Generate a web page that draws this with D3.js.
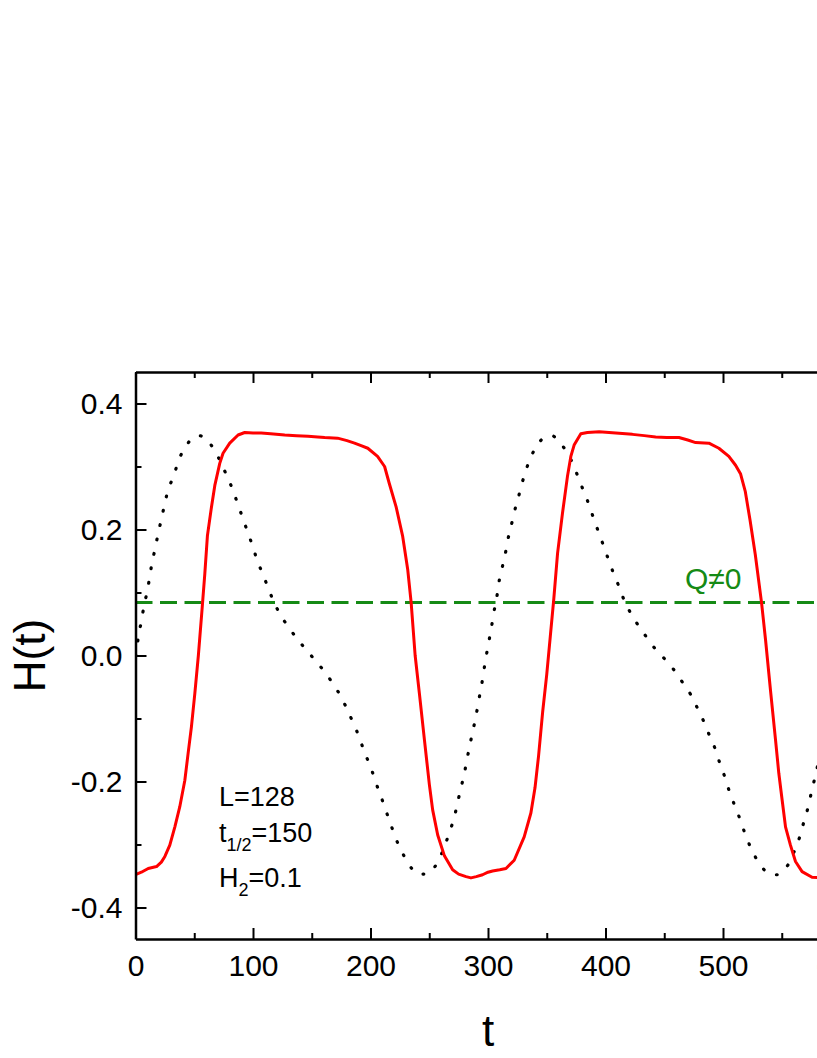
<!DOCTYPE html>
<html>
<head>
<meta charset="utf-8">
<script src="https://cdn.jsdelivr.net/npm/d3@7"></script>
<style>
  body { margin: 0; background: #fff; }
  svg text { font-family: "Liberation Sans", Arial, sans-serif; fill: #000; }
</style>
</head>
<body>
<div id="chart"></div>
<script>
// H(t) vs t: red = magnetisation response, black dotted = driving field
const redT = [0, 5, 10.8, 17.9, 22, 25, 29.2, 33.5, 37.7, 42, 44.8, 47.6, 50.5, 53.5, 56.5, 59, 61.2, 64.6, 67.5, 71.7, 74.5,
  80.2, 87.3, 93, 100, 107, 115, 127, 137, 146.8, 155, 161, 172, 180, 186.4, 192, 197.7, 206, 212, 216, 221.8,
  227.4, 231.7, 234.6, 238, 241.6, 245.9, 250.1, 252.9, 257.2, 262.9, 269.9, 275, 281.3, 285.5, 290, 295.4,
  300, 303.9, 310, 315.3, 322.3, 330.8, 336.5, 340, 343, 346.5, 350, 353, 356, 359.2, 363.4, 367.6, 370.5, 373.3,
  379, 384.6, 394.6, 408.7, 422.9, 433, 442.7, 452, 462.5, 470, 476.7, 488, 496.5, 505, 510.7, 515, 519, 523,
  527.5, 532.8, 536.2, 540.4, 544.7, 547.5, 550.3, 553.2, 557.4, 561.7, 567.3, 575.8, 585, 600];
const redH = [-0.348, -0.344, -0.338, -0.335, -0.328, -0.319, -0.301, -0.272, -0.240, -0.198, -0.155, -0.113, -0.060, 0.000, 0.070, 0.130, 0.190, 0.235, 0.270, 0.305, 0.321,
  0.337, 0.350, 0.354, 0.353, 0.353, 0.352, 0.350, 0.349, 0.348, 0.347, 0.346, 0.345, 0.341, 0.337, 0.333, 0.329, 0.316, 0.300, 0.273, 0.236,
  0.189, 0.136, 0.084, 0.000, -0.060, -0.134, -0.205, -0.245, -0.285, -0.318, -0.340, -0.347, -0.351, -0.353, -0.351, -0.348,
  -0.344, -0.342, -0.340, -0.338, -0.325, -0.288, -0.250, -0.210, -0.160, -0.090, -0.030, 0.030, 0.090, 0.162, 0.226, 0.284, 0.316, 0.334,
  0.352, 0.354, 0.355, 0.353, 0.351, 0.349, 0.347, 0.346, 0.346, 0.342, 0.338, 0.337, 0.329, 0.316, 0.302, 0.288, 0.260, 0.215,
  0.160, 0.084, 0.025, -0.055, -0.134, -0.187, -0.229, -0.272, -0.301, -0.327, -0.343, -0.352, -0.353, -0.350];

const fieldT = [0, 1, 2.9, 5.2, 7.4, 10.3, 12.2, 17, 22.2, 27.8, 32.9, 36.3, 42, 49, 54, 58.4, 67.5, 73.7, 78.2, 83,
  87.3, 91.5, 95.8, 100, 103.7, 108.5, 112.7, 117.8, 123.5, 130.3, 137.7, 145.4, 153.9, 161.5, 168.8, 175.1, 180.7, 185.8, 190.7, 194.9,
  200, 204, 208.2, 212.5, 216.7, 221, 226.1, 231.7, 236, 241, 246, 251, 258.6, 263.4, 267.7, 271.4, 274.2, 277, 279.9, 282.2,
  284.7, 287.3, 289.8, 292, 294.3, 296.3, 298.3, 300.5, 302.8, 304.8, 307.3, 309, 311.6, 314.4, 316.7, 319.5, 322.3, 325.7, 328.9, 332.3,
  337, 343, 348, 354.4, 358, 363.4, 370, 375.3, 379.9, 384.6, 388.9, 393.1, 397.4, 401.6, 405.9, 410.7, 415.2, 420.9, 427.1, 434.2,
  442.1, 450.6, 458.3, 465.3, 472.5, 478.1, 483.2, 488.3, 493.1, 497.1, 501.4, 505.3, 509.5, 514.1, 518.4, 522.9, 528.2, 534.5, 540, 546,
  551, 555.1, 560.8, 565.1, 568.7, 572.1, 574.9, 577.8, 580.5, 583];
const fieldH = [0.000, 0.011, 0.035, 0.056, 0.081, 0.104, 0.127, 0.173, 0.218, 0.263, 0.287, 0.308, 0.329, 0.346, 0.349, 0.346, 0.325, 0.302, 0.283, 0.262,
  0.239, 0.217, 0.194, 0.172, 0.150, 0.129, 0.108, 0.085, 0.064, 0.045, 0.026, 0.009, -0.010, -0.027, -0.047, -0.066, -0.088, -0.109, -0.131, -0.154,
  -0.176, -0.199, -0.220, -0.243, -0.265, -0.288, -0.309, -0.329, -0.340, -0.347, -0.347, -0.343, -0.323, -0.301, -0.278, -0.256, -0.233, -0.210, -0.187, -0.164,
  -0.141, -0.118, -0.096, -0.072, -0.050, -0.026, -0.003, 0.020, 0.043, 0.067, 0.090, 0.113, 0.136, 0.158, 0.182, 0.204, 0.227, 0.250, 0.273, 0.294,
  0.317, 0.337, 0.346, 0.349, 0.345, 0.333, 0.313, 0.290, 0.268, 0.246, 0.223, 0.201, 0.179, 0.157, 0.135, 0.113, 0.091, 0.069, 0.050, 0.031,
  0.011, -0.006, -0.023, -0.042, -0.062, -0.083, -0.103, -0.126, -0.147, -0.170, -0.192, -0.215, -0.236, -0.258, -0.281, -0.302, -0.322, -0.339, -0.347, -0.348,
  -0.342, -0.333, -0.310, -0.289, -0.265, -0.243, -0.220, -0.197, -0.175, -0.152];

const thresholdH = 0.084;   // Q != 0 line

const xMajor = [0, 100, 200, 300, 400, 500, 600];
const xMinor = [50, 150, 250, 350, 450, 550];
const yMajor = [-0.4, -0.2, 0.0, 0.2, 0.4];
const yMinor = [-0.3, -0.1, 0.1, 0.3];
const yLabels = ["-0.4", "-0.2", "0.0", "0.2", "0.4"];

const annotLines = [
  {main: "L=128"},
  {main: "t", sub: "1/2", rest: "=150"},
  {main: "H", sub: "2", rest: "=0.1"}
];

const W = 817, H = 1058;
const plotL = 135.5, plotR = 840.5, plotT = 372, plotB = 939;

const svg = d3.select("#chart").append("svg")
  .attr("width", W).attr("height", H);

const x = d3.scaleLinear().domain([0, 600]).range([plotL, plotR]);
const y = d3.scaleLinear().domain([-0.45, 0.45]).range([plotB, plotT]);

svg.append("clipPath").attr("id", "plot-clip")
  .append("rect")
  .attr("x", plotL).attr("y", plotT)
  .attr("width", plotR - plotL).attr("height", plotB - plotT);

const plot = svg.append("g").attr("clip-path", "url(#plot-clip)");

// green threshold line
plot.append("line")
  .attr("x1", plotL).attr("x2", plotR)
  .attr("y1", y(thresholdH)).attr("y2", y(thresholdH))
  .attr("stroke", "#158a15")
  .attr("stroke-width", 3)
  .attr("stroke-dasharray", "17,7.5");

// dotted field curve
const fieldLine = d3.line()
  .x(d => x(d[0])).y(d => y(d[1]))
  .curve(d3.curveMonotoneX);
plot.append("path")
  .datum(fieldT.map((t, i) => [t, fieldH[i]]))
  .attr("d", fieldLine)
  .attr("fill", "none")
  .attr("stroke", "#000")
  .attr("stroke-width", 3.2)
  .attr("stroke-linecap", "round")
  .attr("stroke-dasharray", "0.8,13.9");

// red response curve
const redLine = d3.line()
  .x(d => x(d[0])).y(d => y(d[1]));
plot.append("path")
  .datum(redT.map((t, i) => [t, redH[i]]))
  .attr("d", redLine)
  .attr("fill", "none")
  .attr("stroke", "#ff0000")
  .attr("stroke-width", 3)
  .attr("stroke-linejoin", "round");

// axes, ticks pointing inward
function styleAxis(g) {
  g.selectAll("path.domain").attr("stroke", "#000").attr("stroke-width", 2.5);
  g.selectAll(".tick line").attr("stroke", "#000").attr("stroke-width", 2);
  g.selectAll(".tick text").attr("font-size", 30).attr("fill", "#000")
    .attr("font-family", "'Liberation Sans', Arial, sans-serif");
}

svg.append("g").attr("transform", `translate(0,${plotB})`)
  .call(d3.axisBottom(x).tickValues(xMinor).tickSize(-6).tickFormat(""))
  .call(g => g.select(".domain").remove())
  .call(styleAxis);
svg.append("g").attr("transform", `translate(0,${plotB})`)
  .call(d3.axisBottom(x).tickValues(xMajor).tickSize(-11).tickSizeOuter(0).tickPadding(16).tickFormat(d3.format("d")))
  .call(styleAxis);

svg.append("g").attr("transform", `translate(0,${plotT})`)
  .call(d3.axisTop(x).tickValues(xMinor).tickSize(-6).tickFormat(""))
  .call(g => g.select(".domain").remove())
  .call(styleAxis);
svg.append("g").attr("transform", `translate(0,${plotT})`)
  .call(d3.axisTop(x).tickValues(xMajor).tickSize(-11).tickSizeOuter(0).tickFormat(""))
  .call(styleAxis);

svg.append("g").attr("transform", `translate(${plotL},0)`)
  .call(d3.axisLeft(y).tickValues(yMinor).tickSize(-6).tickFormat(""))
  .call(g => g.select(".domain").remove())
  .call(styleAxis);
svg.append("g").attr("transform", `translate(${plotL},0)`)
  .call(d3.axisLeft(y).tickValues(yMajor).tickSize(-11).tickSizeOuter(0).tickPadding(13)
    .tickFormat((d, i) => yLabels[i]))
  .call(styleAxis);

svg.append("g").attr("transform", `translate(${plotR},0)`)
  .call(d3.axisRight(y).tickValues(yMajor).tickSize(-11).tickSizeOuter(0).tickFormat(""))
  .call(styleAxis);

// axis titles
svg.append("text")
  .attr("x", (plotL + plotR) / 2).attr("y", 1046)
  .attr("text-anchor", "middle")
  .attr("font-size", 44)
  .text("t");

svg.append("text")
  .attr("transform", `translate(45,${(plotT + plotB) / 2}) rotate(-90)`)
  .attr("text-anchor", "middle")
  .attr("font-size", 44)
  .text("H(t)");

// Q != 0 label
svg.append("text")
  .attr("x", 685).attr("y", 589)
  .attr("font-size", 30)
  .style("fill", "#158a15")
  .text("Q\u22600");

// parameter box
const baselines = [806, 842, 887];
annotLines.forEach((ln, i) => {
  const t = svg.append("text")
    .attr("x", 219).attr("y", baselines[i])
    .attr("font-size", 27);
  t.append("tspan").text(ln.main);
  if (ln.sub) {
    t.append("tspan").attr("font-size", 18).attr("dy", 9).text(ln.sub);
    t.append("tspan").attr("dy", -9).text(ln.rest);
  }
});
</script>
</body>
</html>
